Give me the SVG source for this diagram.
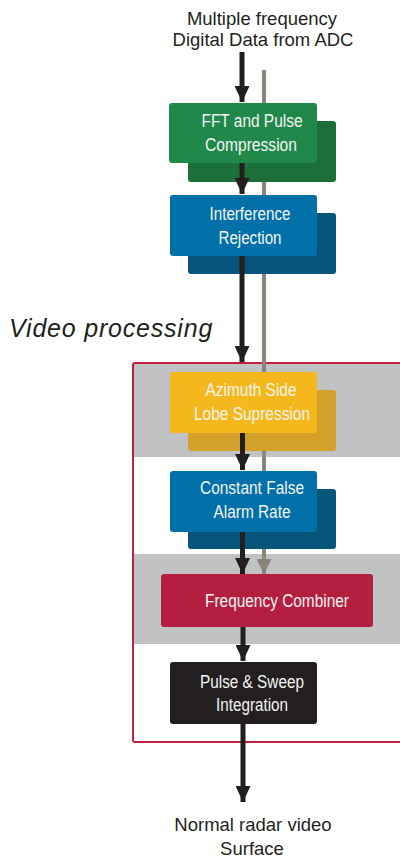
<svg xmlns="http://www.w3.org/2000/svg" width="400" height="859" viewBox="0 0 400 859">
<style>
.t{font-family:"Liberation Sans",Arial,sans-serif;fill:#231f20;font-size:18.5px;text-anchor:middle}
.b{font-family:"Liberation Sans",Arial,sans-serif;fill:#f4f4f4;font-size:17.5px;text-anchor:middle}
.blk{stroke:#231f20;stroke-width:5;fill:none}
.gry{stroke:#8b857c;stroke-width:4;fill:none}
</style>
<defs>
<marker id="ah" markerUnits="userSpaceOnUse" markerWidth="16" markerHeight="15" refX="16" refY="7.5" orient="auto" viewBox="0 0 16 15"><path d="M0,0 L16,7.5 L0,15 Z" fill="#231f20"/></marker>
<marker id="ahg" markerUnits="userSpaceOnUse" markerWidth="15" markerHeight="15" refX="15" refY="7.5" orient="auto" viewBox="0 0 15 15"><path d="M0,0 L15,7.5 L0,15 Z" fill="#8b857c"/></marker>
</defs>
<rect width="400" height="859" fill="#ffffff"/>
<g id="video-processing-region">
<rect x="133" y="363" width="267" height="94" fill="#c1c2c4"/>
<rect x="133" y="554" width="267" height="90" fill="#c1c2c4"/>
<rect x="133" y="363" width="290" height="379" rx="2" fill="none" stroke="#c1203f" stroke-width="2"/>
<text x="9" y="337" font-family="Liberation Sans,Arial,sans-serif" font-style="italic" font-size="25px" letter-spacing="0.8" fill="#231f20">Video processing</text>
</g>
<g id="input-label">
<text class="t" x="262" y="25">Multiple frequency</text>
<text class="t" x="263" y="46">Digital Data from ADC</text>
</g>
<g id="fft">
<rect x="188" y="121" width="148" height="61" rx="3" fill="#1d6f3a"/>
<rect x="169" y="103" width="148" height="60" rx="3" fill="#20894a"/>
<text class="b" x="252" y="127" textLength="101" lengthAdjust="spacingAndGlyphs">FFT and Pulse</text>
<text class="b" x="251" y="151" textLength="92" lengthAdjust="spacingAndGlyphs">Compression</text>
</g>
<g id="interference">
<rect x="188" y="213" width="148" height="61" rx="3" fill="#07557b"/>
<rect x="170" y="195" width="147" height="61" rx="3" fill="#0070a8"/>
<text class="b" x="250" y="220" textLength="81" lengthAdjust="spacingAndGlyphs">Interference</text>
<text class="b" x="250" y="244" textLength="63" lengthAdjust="spacingAndGlyphs">Rejection</text>
</g>
<g id="azimuth">
<rect x="188" y="390" width="148" height="61" rx="3" fill="#d4a22b"/>
<rect x="170" y="372" width="147" height="61" rx="3" fill="#f5b81c"/>
<text class="b" x="251" y="396" textLength="91" lengthAdjust="spacingAndGlyphs">Azimuth Side</text>
<text class="b" x="252" y="420" textLength="116" lengthAdjust="spacingAndGlyphs">Lobe Supression</text>
</g>
<g id="cfar">
<rect x="188" y="489" width="148" height="60" rx="3" fill="#07557b"/>
<rect x="170" y="471" width="147" height="61" rx="3" fill="#0070a8"/>
<text class="b" x="252" y="494" textLength="104" lengthAdjust="spacingAndGlyphs">Constant False</text>
<text class="b" x="252" y="518" textLength="77" lengthAdjust="spacingAndGlyphs">Alarm Rate</text>
</g>
<g id="frequency-combiner">
<rect x="161" y="574" width="212" height="53" rx="3" fill="#b41f40"/>
<text class="b" x="277" y="607" textLength="144" lengthAdjust="spacingAndGlyphs">Frequency Combiner</text>
</g>
<g id="pulse-sweep">
<rect x="170" y="662" width="147" height="62" rx="3" fill="#231f20"/>
<text class="b" x="252" y="688" textLength="104" lengthAdjust="spacingAndGlyphs">Pulse &amp; Sweep</text>
<text class="b" x="252" y="711" textLength="72" lengthAdjust="spacingAndGlyphs">Integration</text>
</g>
<g id="output-label">
<text class="t" x="253" y="831">Normal radar video</text>
<text class="t" x="252" y="855">Surface</text>
</g>
<g id="connectors">
<path class="gry" d="M264,70 V103 M264,182 V195 M264,274 V372 M264,451 V471"/>
<path class="gry" d="M264,549 V574" marker-end="url(#ahg)"/>
<path class="blk" d="M242,52 V102" marker-end="url(#ah)"/>
<path class="blk" d="M242,163 V194" marker-end="url(#ah)"/>
<path class="blk" d="M242,256 V362" marker-end="url(#ah)"/>
<path class="blk" d="M242.5,433 V470" marker-end="url(#ah)"/>
<path class="blk" d="M242.5,532 V574" marker-end="url(#ah)"/>
<path class="blk" d="M243,627 V661" marker-end="url(#ah)"/>
<path class="blk" d="M243,724 V802" marker-end="url(#ah)"/>
</g>
</svg>
